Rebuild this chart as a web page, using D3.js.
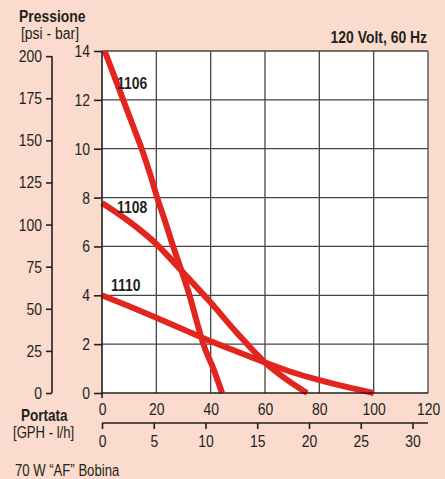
<!DOCTYPE html>
<html>
<head>
<meta charset="utf-8">
<script src="https://cdn.jsdelivr.net/npm/d3@7"></script>
<style>
  body { margin: 0; background: #fadbcd; }
  svg { display: block; }
  text { font-family: "Liberation Sans", Arial, sans-serif; fill: #231f20;
         transform-box: fill-box; transform: scaleX(0.82); }
  text.s { transform-origin: left center; }
  text.m { transform-origin: center center; }
  text.e { transform-origin: right center; }
</style>
</head>
<body>
<svg width="445" height="479"></svg>
<script>
'use strict';
// data: flow in GPH, pressure in bar
const gphTicks = [0, 20, 40, 60, 80, 100, 120];
const lhTicks = [0, 5, 10, 15, 20, 25, 30];
const barTicks = [0, 2, 4, 6, 8, 10, 12, 14];
const psiTicks = [0, 25, 50, 75, 100, 125, 150, 175, 200];

const pump1106 = [[1, 14], [4.4, 13], [7.8, 12], [11.2, 11], [14.6, 10], [17.6, 9], [20.3, 8],
  [23.3, 7], [26.2, 6], [29.3, 5], [32.2, 4], [34.7, 3], [37.3, 2], [41, 1], [44.2, 0]];
const pump1108 = [[0, 7.78], [10, 7.02], [20, 6.1], [29.3, 5.0], [40, 3.7], [50, 2.42],
  [60, 1.25], [68, 0.55], [75.5, 0]];
const pump1110 = [[0, 4.0], [10, 3.55], [20, 3.08], [30, 2.6], [36.7, 2.27], [50, 1.68],
  [60, 1.25], [70, 0.85], [80, 0.53], [90, 0.25], [100, 0]];
const pumpNames = ['1106', '1108', '1110'];

const svg = d3.select('svg');
const x = d3.scaleLinear().domain([0, 120]).range([102, 428]);
const y = d3.scaleLinear().domain([0, 14]).range([393, 51]);
const PSI_PER_BAR = 14.5038;
// lower flow scale as drawn on the original
const xl = d3.scaleLinear().domain([0, 30]).range([102, 412.5]);

// plot background
svg.append('rect')
  .attr('x', x(0)).attr('y', y(14))
  .attr('width', x(120) - x(0)).attr('height', y(0) - y(14))
  .attr('fill', '#fff');

// grid
const grid = svg.append('g').attr('stroke', '#454545').attr('stroke-width', 1.3);
grid.selectAll('.gx').data(gphTicks.slice(1)).join('line')
  .attr('x1', d => x(d)).attr('x2', d => x(d))
  .attr('y1', y(14)).attr('y2', y(0));
grid.selectAll('.gy').data(barTicks.slice(1)).join('line')
  .attr('x1', x(0)).attr('x2', x(120))
  .attr('y1', d => y(d)).attr('y2', d => y(d));

// pump curves
const line = d3.line().x(d => x(d[0])).y(d => y(d[1])).curve(d3.curveMonotoneX);
svg.append('g').selectAll('path').data([pump1106, pump1108, pump1110]).join('path')
  .attr('d', line)
  .attr('fill', 'none')
  .attr('stroke', '#e2261f')
  .attr('stroke-width', 6);

// curve labels
const labelPos = [[117, 89], [117, 213], [111, 291]];
svg.append('g').selectAll('text').data(pumpNames).join('text')
  .attr('class', 's')
  .attr('x', (d, i) => labelPos[i][0]).attr('y', (d, i) => labelPos[i][1])
  .attr('font-size', 17).attr('font-weight', 'bold')
  .text(d => d);

// bar axis (left of plot)
const barAxis = svg.append('g').attr('transform', `translate(${x(0)},0)`)
  .call(d3.axisLeft(y).tickValues(barTicks).tickSize(8).tickPadding(4));
barAxis.select('.domain').attr('d', `M0,${y(14)}V${y(0) + 5}`);
// psi axis
const psiScale = d3.scaleLinear().domain([0, 14 * PSI_PER_BAR]).range(y.range());
const psiAxis = svg.append('g').attr('transform', 'translate(52,0)')
  .call(d3.axisLeft(psiScale).tickValues(psiTicks).tickSize(6).tickPadding(4));
psiAxis.select('.domain').attr('d', `M0,${psiScale(200)}V${psiScale(0)}`);

// GPH axis (no tick marks on the original)
const gphAxis = svg.append('g').attr('transform', `translate(0,${y(0)})`)
  .call(d3.axisBottom(x).tickValues(gphTicks).tickSize(0).tickPadding(10));
gphAxis.select('.domain').attr('d', `M${x(0)},0H${x(120)}`);
// l/h axis
const lhAxis = svg.append('g').attr('transform', 'translate(0,423)')
  .call(d3.axisBottom(xl).tickValues(lhTicks).tickSize(6).tickPadding(6));
lhAxis.select('.domain').attr('d', `M${x(0)},0H${x(120)}`);

[barAxis, psiAxis, gphAxis, lhAxis].forEach((a, i) => {
  a.selectAll('.domain').attr('stroke', '#231f20').attr('stroke-width', 1.6);
  a.selectAll('.tick line').attr('stroke', '#231f20').attr('stroke-width', 1.6);
  a.selectAll('.tick text')
    .attr('class', i < 2 ? 'e' : 'm')
    .attr('font-family', null).attr('font-size', 17).attr('fill', '#231f20');
});

// titles
const texts = [
  {t: 'Pressione', x: 19, y: 22, b: true, s: 17},
  {t: '[psi - bar]', x: 21, y: 39, b: false, s: 17},
  {t: '120 Volt, 60 Hz', x: 427, y: 43, b: true, s: 17, end: true},
  {t: 'Portata', x: 21, y: 421, b: true, s: 16.5},
  {t: '[GPH - l/h]', x: 13, y: 438, b: false, s: 16},
  {t: '70 W \u201CAF\u201D Bobina', x: 15, y: 476, b: false, s: 16}
];
svg.append('g').selectAll('text').data(texts).join('text')
  .attr('class', d => d.end ? 'e' : 's')
  .attr('text-anchor', d => d.end ? 'end' : 'start')
  .attr('x', d => d.x).attr('y', d => d.y)
  .attr('font-size', d => d.s)
  .attr('font-weight', d => d.b ? 'bold' : 'normal')
  .text(d => d.t);
</script>
</body>
</html>
